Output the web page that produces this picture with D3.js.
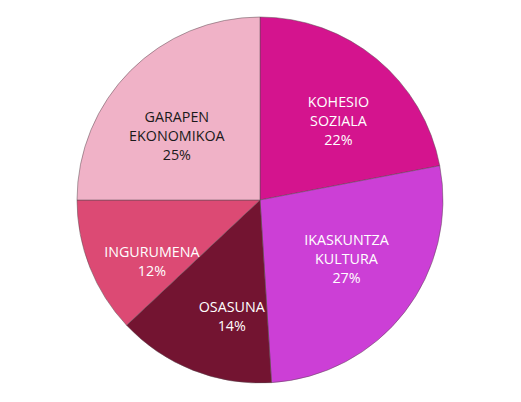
<!DOCTYPE html>
<meta charset="utf-8">
<html>
<head>
  <script src="https://d3js.org/d3.v7.min.js" charset="utf-8"></script>
</head>
<style>
body { margin: 0; background: white; }
text { font-family: "Open Sans", sans-serif; font-size: 14.3px; }
</style>
<body>
<div id="container"></div>
<script type="text/javascript">

var width = 521
var height = 402
var center = {x: 260, y: 200}
var radius = 183
var labelRadius = 112
var lineH = 19

var categories = [["KOHESIO", "SOZIALA"], ["IKASKUNTZA", "KULTURA"], ["OSASUNA"], ["INGURUMENA"], ["GARAPEN", "EKONOMIKOA"]]
var values = [22, 27, 14, 12, 25]
var colors = ["#d4148e", "#cc3fd6", "#731431", "#dc4a74", "#f0b2c7"]
var textColors = ["#ffffff", "#ffffff", "#ffffff", "#ffffff", "#1a1a1a"]
// hand nudges so labels sit where the original put them
var labelNudge = [[7, 7], [-2, -10], [13, 12], [-4, 20], [-4, 15]]

const svg = d3.select("#container")
              .append("svg")
              .attr("width", width)
              .attr("height", height)

var g = svg.append("g").attr("transform", "translate(" + center.x + "," + center.y + ")")

var pie = d3.pie().sort(null).value((d) => d)
var arcs = pie(values)
var arc = d3.arc().innerRadius(0).outerRadius(radius)
var labelArc = d3.arc().innerRadius(labelRadius).outerRadius(labelRadius)

g.selectAll("path")
 .data(arcs)
 .enter()
 .append("path")
 .attr("d", arc)
 .attr("fill", (d, i) => colors[i])
 .attr("stroke", "#5a4a50")
 .attr("stroke-width", 0.5)

var labels = g.selectAll("text.label")
 .data(arcs)
 .enter()
 .append("text")
 .attr("class", "label")
 .attr("text-anchor", "middle")
 .attr("fill", (d, i) => textColors[i])
 .attr("transform", function(d, i) {
   var c = labelArc.centroid(d)
   return "translate(" + (c[0] + labelNudge[i][0]) + "," + (c[1] + labelNudge[i][1]) + ")"
 })

labels.each(function(d, i) {
  var lines = categories[i].concat([values[i] + "%"])
  var t = d3.select(this)
  var y0 = -(lines.length - 1) * lineH / 2 + 5.5
  lines.forEach(function(l, j) {
    t.append("tspan").attr("x", 0).attr("y", y0 + j * lineH).text(l)
  })
})

</script>
</body>
</html>
